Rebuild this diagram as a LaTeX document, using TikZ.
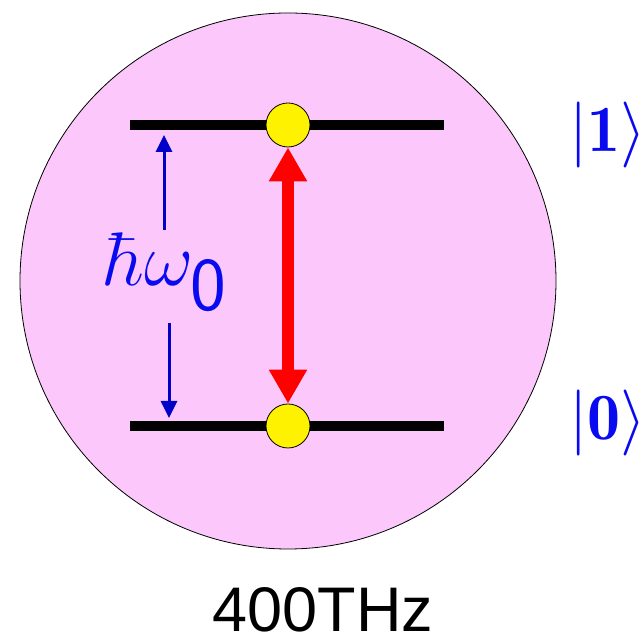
\RequirePackage{fix-cm}
\documentclass[tikz,border=0pt]{standalone}
\usepackage{fontspec}
\newfontfamily\hzfont{Liberation Sans}
\usetikzlibrary{arrows.meta}
\definecolor{atompink}{RGB}{252,200,252}
\definecolor{ketblue}{RGB}{10,10,240}
\definecolor{gapblue}{RGB}{0,0,200}
\begin{document}
\begin{tikzpicture}[x=1pt,y=1pt]
\useasboundingbox (0,0) rectangle (641,639);
\node[draw,circle,fill=atompink,line width=0.8pt,minimum size=536pt] (atom) at (288,358) {};
\node[fill=black,inner sep=0pt,minimum width=314pt,minimum height=10pt] (up) at (287,514) {};
\node[fill=black,inner sep=0pt,minimum width=314pt,minimum height=10pt] (down) at (287,213) {};
\node[draw,circle,fill=yellow,line width=0.8pt,minimum size=44pt,inner sep=0pt] (dotup) at (288,514) {};
\node[draw,circle,fill=yellow,line width=0.8pt,minimum size=44pt,inner sep=0pt] (dotdown) at (288,213) {};
\draw[red,line width=12pt,{Triangle[width=36pt,length=34pt]}-{Triangle[width=36pt,length=34pt]}] (dotup) -- (dotdown);
\node[text=ketblue,font=\fontsize{76}{80}\selectfont,inner sep=0pt] (gap) at (166,367) {$\hbar\omega_{\textsf{0}}$};
\coordinate (gaptop) at (164,504);
\coordinate (gapbot) at (169,221);
\draw[gapblue,line width=3pt,-{Triangle[width=16pt,length=17pt]}] (164,409) -- (gaptop);
\draw[gapblue,line width=3pt,-{Triangle[width=16pt,length=17pt]}] (169,316) -- (gapbot);
\node[text=ketblue,font=\fontsize{66}{70}\selectfont,anchor=west,inner sep=0pt] (ket1) at (569,504) {$|\mathbf{1}\rangle$};
\node[text=ketblue,font=\fontsize{66}{70}\selectfont,anchor=west,inner sep=0pt] (ket0) at (569,216) {$|\mathbf{0}\rangle$};
\node[font=\hzfont\fontsize{63}{66}\selectfont,anchor=base,inner sep=0pt] (freq) at (323,7) {400THz};
\end{tikzpicture}
\end{document}
